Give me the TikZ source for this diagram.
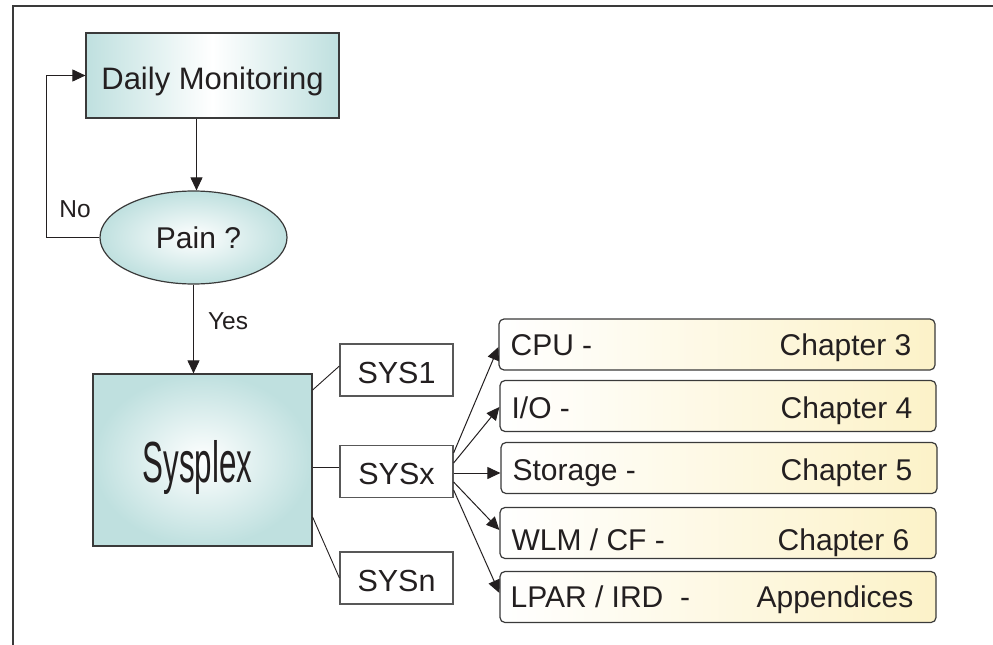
\documentclass[tikz,border=0pt]{standalone}
\usepackage{fontspec}
\setmainfont{Liberation Sans}
\newfontfamily\plainsans{Liberation Sans}
\usetikzlibrary{arrows.meta,shapes.geometric,calc}
\definecolor{tealfill}{HTML}{BFE0DF}
\definecolor{yellowfill}{HTML}{FCF2C8}
\definecolor{edge}{HTML}{3A3A3A}
\definecolor{ink}{HTML}{231F20}
\begin{document}
\begin{tikzpicture}[x=1pt,y=-1pt,
  every node/.style={text=ink},
  arr/.style={draw=ink, line width=1pt, -{Triangle[length=13pt,width=12pt]}},
  conn/.style={draw=ink, line width=0.9pt},
  tealrect/.style={draw=edge, line width=1.2pt, left color=tealfill, right color=tealfill, middle color=white, inner sep=0pt, text depth=0pt},
  tealrad/.style={draw=edge, line width=1.2pt, inner color=white, outer color=tealfill, inner sep=0pt, text depth=0pt},
  sysbox/.style={draw=edge!85, line width=1.2pt, fill=white, minimum width=113pt, minimum height=52pt, inner sep=0pt, text depth=0pt, text height=26pt, font=\fontsize{30.5}{34}\selectfont},
  chapbox/.style={draw=edge, line width=1.2pt, rounded corners=5pt, left color=white, right color=yellowfill, minimum width=436pt, minimum height=51pt, inner sep=0pt},
  chapL/.style={anchor=base west, inner sep=0pt, font=\fontsize{30}{34}\selectfont},
  chapR/.style={anchor=base east, inner sep=0pt, font=\fontsize{30}{34}\selectfont},
  lbl/.style={inner sep=0pt, font=\fontsize{24.5}{28}\selectfont}
]
\useasboundingbox (0,0) rectangle (993,645);
% frame
\draw[line width=1.6pt, draw=edge] (13,645) -- (13,6) -- (993,6);

% top flow
\node[tealrect, minimum width=253pt, minimum height=85pt, text height=28pt, font=\fontsize{31}{34}\selectfont] (dm) at (212.5,75.5) {Daily Monitoring};
\node[tealrad, ellipse, minimum width=187pt, minimum height=93pt, text height=22pt, font=\fontsize{30}{34}\selectfont] (pain) at (193.5,237.5) {\hspace*{10pt}Pain ?};
\node[tealrad, minimum width=219pt, minimum height=172pt, text height=44pt, font=\plainsans\fontsize{58}{60}\selectfont] (sysplex) at (202.5,460) {\scalebox{0.54}[1]{Sysplex}\hspace*{10pt}};

\draw[arr] ([xshift=-16pt]dm.south) -- ([xshift=-16pt]dm.south |- pain.north);
\draw[arr] (pain.west) -- ++(-53,0) |- (dm.west);
\node[lbl] (no) at (75,209) {No};
\draw[arr] (pain.south) -- (pain.south |- sysplex.north);
\node[lbl] (yes) at (228,321) {Yes};

% systems
\node[sysbox] (sys1) at (396.5,370) {SYS1};
\node[sysbox] (sysx) at (396.5,471.5) {SYSx};
\node[sysbox] (sysn) at (396.5,578) {SYSn};

\draw[conn] ([yshift=70pt]sysplex.east) -- ([yshift=4pt]sys1.west);
\draw[conn] ([yshift=-7pt]sysplex.east) -- ([yshift=4.5pt]sysx.west);
\draw[conn] ([yshift=-57pt]sysplex.east) -- (sysn.west);

% chapters
\node[chapbox] (cpu) at (717,344.5) {};
\node[chapbox] (io) at (718,406) {};
\node[chapbox] (stor) at (719,468) {};
\node[chapbox] (wlm) at (718,533) {};
\node[chapbox] (lpar) at (718,597) {};

\node[chapL] (cpuL) at ([xshift=12pt,yshift=-11pt]cpu.west) {CPU -};
\node[chapR] (cpuR) at ([xshift=-24pt,yshift=-11pt]cpu.east) {Chapter 3};
\node[chapL] (ioL) at ([xshift=12pt,yshift=-12pt]io.west) {I/O -};
\node[chapR] (ioR) at ([xshift=-24pt,yshift=-12pt]io.east) {Chapter 4};
\node[chapL] (storL) at ([xshift=12pt,yshift=-12pt]stor.west) {Storage -};
\node[chapR] (storR) at ([xshift=-25pt,yshift=-12pt]stor.east) {Chapter 5};
\node[chapL] (wlmL) at ([xshift=12pt,yshift=-17pt]wlm.west) {WLM / CF -};
\node[chapR] (wlmR) at ([xshift=-27pt,yshift=-17pt]wlm.east) {Chapter 6};
\node[chapL] (lparL) at ([xshift=11pt,yshift=-10pt]lpar.west) {LPAR / IRD\ \ -};
\node[chapR] (lparR) at ([xshift=-23pt,yshift=-10pt]lpar.east) {Appendices};

\draw[arr] ([yshift=18.5pt]sysx.east) -- ([yshift=-2.5pt]cpu.west);
\draw[arr] ([yshift=8.5pt]sysx.east) -- ([yshift=-1pt]io.west);
\draw[arr] ([yshift=-1.5pt]sysx.east) -- ([yshift=-5pt]stor.west);
\draw[arr] ([yshift=-10.5pt]sysx.east) -- ([yshift=3pt]wlm.west);
\draw[arr] ([yshift=-18.5pt]sysx.east) -- ([yshift=4pt]lpar.west);
\end{tikzpicture}
\end{document}
